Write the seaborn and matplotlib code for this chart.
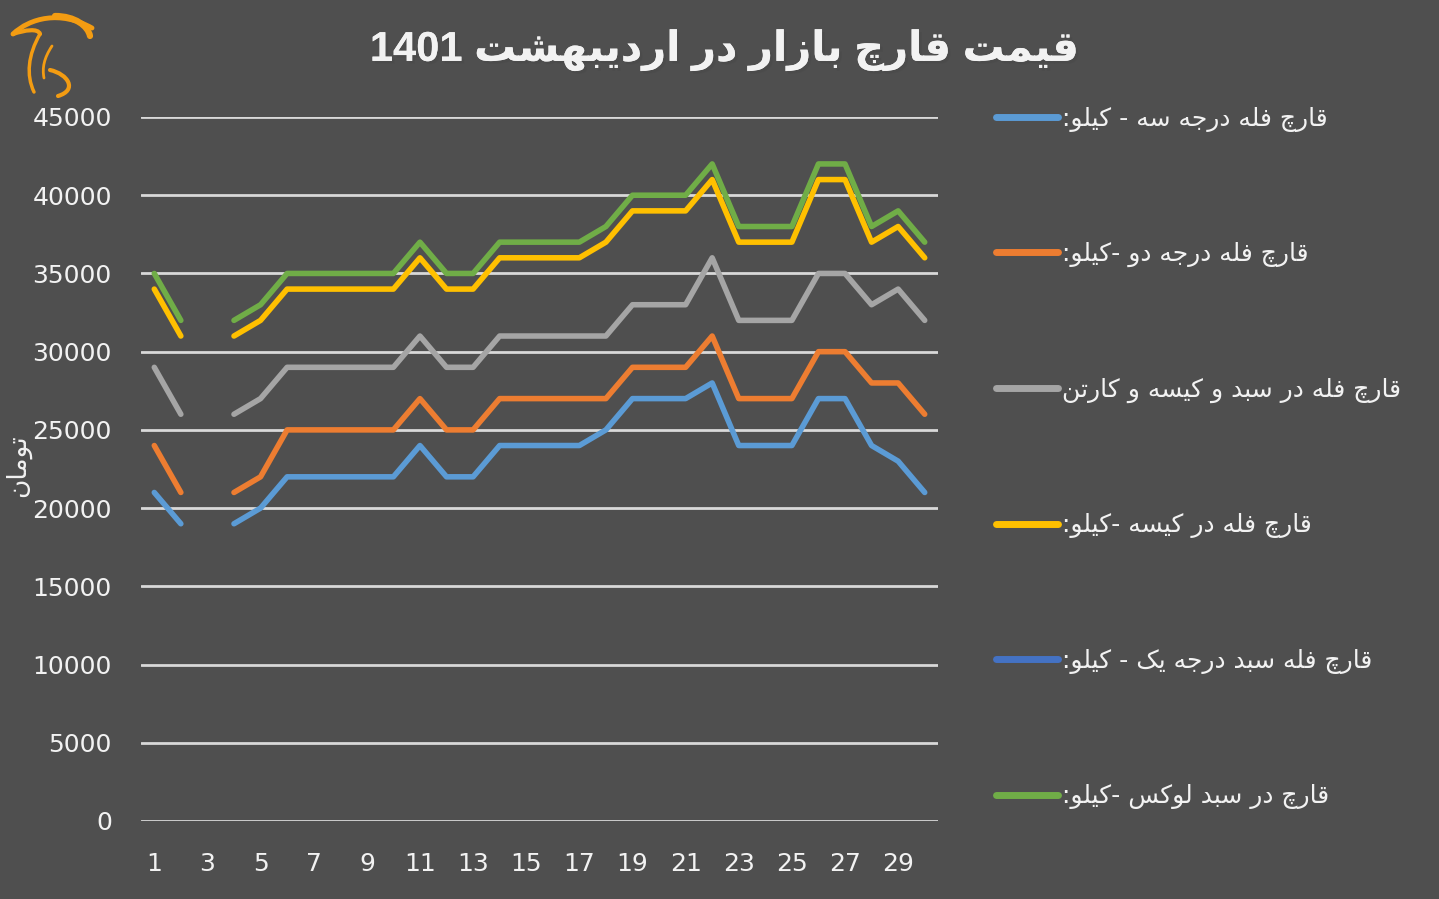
import numpy as np
import pandas as pd
import matplotlib
matplotlib.use("Agg")
import matplotlib.pyplot as plt
import seaborn as sns
from matplotlib.lines import Line2D
from matplotlib.path import Path
from matplotlib.patches import PathPatch
import matplotlib.patheffects as pe

# ---------------- data ----------------
days = list(range(1, 31))
grade3 = [21000, 19000, None, 19000, 20000, 22000, 22000, 22000, 22000, 22000,
          24000, 22000, 22000, 24000, 24000, 24000, 24000, 25000, 27000, 27000,
          27000, 28000, 24000, 24000, 24000, 27000, 27000, 24000, 23000, 21000]
grade2 = [24000, 21000, None, 21000, 22000, 25000, 25000, 25000, 25000, 25000,
          27000, 25000, 25000, 27000, 27000, 27000, 27000, 27000, 29000, 29000,
          29000, 31000, 27000, 27000, 27000, 30000, 30000, 28000, 28000, 26000]
carton = [29000, 26000, None, 26000, 27000, 29000, 29000, 29000, 29000, 29000,
          31000, 29000, 29000, 31000, 31000, 31000, 31000, 31000, 33000, 33000,
          33000, 36000, 32000, 32000, 32000, 35000, 35000, 33000, 34000, 32000]
bag = [34000, 31000, None, 31000, 32000, 34000, 34000, 34000, 34000, 34000,
       36000, 34000, 34000, 36000, 36000, 36000, 36000, 37000, 39000, 39000,
       39000, 41000, 37000, 37000, 37000, 41000, 41000, 37000, 38000, 36000]
grade1 = [None] * 30
lux = [35000, 32000, None, 32000, 33000, 35000, 35000, 35000, 35000, 35000,
       37000, 35000, 35000, 37000, 37000, 37000, 37000, 38000, 40000, 40000,
       40000, 42000, 38000, 38000, 38000, 42000, 42000, 38000, 39000, 37000]

series_names = [
    "قارچ فله درجه سه - کیلو:",
    "قارچ فله درجه دو -کیلو:",
    "قارچ فله در سبد و کیسه و کارتن",
    "قارچ فله در کیسه -کیلو:",
    "قارچ فله سبد درجه یک - کیلو:",
    "قارچ در سبد لوکس -کیلو:",
]
series_values = [grade3, grade2, carton, bag, grade1, lux]
colors = ["#5B9BD5", "#ED7D31", "#A5A5A5", "#FFC000", "#4472C4", "#70AD47"]
title_text = "قیمت قارچ بازار در اردیبهشت 1401"
ylabel_text = "تومان"
yticks = list(range(0, 45001, 5000))
xticks = list(range(1, 30, 2))

# ---------------- Arabic/Persian shaping ----------------
FORMS = {
    "\u0627": (0xFE8D, 0xFE8E, None, None),
    "\u0628": (0xFE8F, 0xFE90, 0xFE91, 0xFE92),
    "\u062A": (0xFE95, 0xFE96, 0xFE97, 0xFE98),
    "\u062B": (0xFE99, 0xFE9A, 0xFE9B, 0xFE9C),
    "\u062C": (0xFE9D, 0xFE9E, 0xFE9F, 0xFEA0),
    "\u062D": (0xFEA1, 0xFEA2, 0xFEA3, 0xFEA4),
    "\u062E": (0xFEA5, 0xFEA6, 0xFEA7, 0xFEA8),
    "\u062F": (0xFEA9, 0xFEAA, None, None),
    "\u0630": (0xFEAB, 0xFEAC, None, None),
    "\u0631": (0xFEAD, 0xFEAE, None, None),
    "\u0632": (0xFEAF, 0xFEB0, None, None),
    "\u0633": (0xFEB1, 0xFEB2, 0xFEB3, 0xFEB4),
    "\u0634": (0xFEB5, 0xFEB6, 0xFEB7, 0xFEB8),
    "\u0635": (0xFEB9, 0xFEBA, 0xFEBB, 0xFEBC),
    "\u0636": (0xFEBD, 0xFEBE, 0xFEBF, 0xFEC0),
    "\u0637": (0xFEC1, 0xFEC2, 0xFEC3, 0xFEC4),
    "\u0638": (0xFEC5, 0xFEC6, 0xFEC7, 0xFEC8),
    "\u0639": (0xFEC9, 0xFECA, 0xFECB, 0xFECC),
    "\u063A": (0xFECD, 0xFECE, 0xFECF, 0xFED0),
    "\u0641": (0xFED1, 0xFED2, 0xFED3, 0xFED4),
    "\u0642": (0xFED5, 0xFED6, 0xFED7, 0xFED8),
    "\u0643": (0xFED9, 0xFEDA, 0xFEDB, 0xFEDC),
    "\u0644": (0xFEDD, 0xFEDE, 0xFEDF, 0xFEE0),
    "\u0645": (0xFEE1, 0xFEE2, 0xFEE3, 0xFEE4),
    "\u0646": (0xFEE5, 0xFEE6, 0xFEE7, 0xFEE8),
    "\u0647": (0xFEE9, 0xFEEA, 0xFEEB, 0xFEEC),
    "\u0648": (0xFEED, 0xFEEE, None, None),
    "\u064A": (0xFEF1, 0xFEF2, 0xFEF3, 0xFEF4),
    "\u067E": (0xFB56, 0xFB57, 0xFB58, 0xFB59),
    "\u0686": (0xFB7A, 0xFB7B, 0xFB7C, 0xFB7D),
    "\u0698": (0xFB8A, 0xFB8B, None, None),
    "\u06A9": (0xFB8E, 0xFB8F, 0xFB90, 0xFB91),
    "\u06AF": (0xFB92, 0xFB93, 0xFB94, 0xFB95),
    "\u06CC": (0xFBFC, 0xFBFD, 0xFBFE, 0xFBFF),
}


def shape(text):
    out = []
    n = len(text)
    for i, ch in enumerate(text):
        if ch not in FORMS:
            out.append(ch)
            continue
        iso, fin, ini, med = FORMS[ch]
        prev = text[i - 1] if i > 0 else ""
        nxt = text[i + 1] if i + 1 < n else ""
        pj = prev in FORMS and FORMS[prev][2] is not None
        nj = nxt in FORMS and ini is not None
        if pj and nj:
            out.append(chr(med))
        elif pj:
            out.append(chr(fin))
        elif nj:
            out.append(chr(ini))
        else:
            out.append(chr(iso))
    s = "".join(out)[::-1]
    # restore digit runs to LTR
    res, run = [], []
    for ch in s:
        if ch.isdigit():
            run.append(ch)
        else:
            if run:
                res.append("".join(run[::-1]))
                run = []
            res.append(ch)
    if run:
        res.append("".join(run[::-1]))
    return "".join(res)


# ---------------- long data frame ----------------
rows = []
for name, vals in zip(series_names, series_values):
    seg = 0
    for d, v in zip(days, vals):
        if v is None:
            seg += 1
            continue
        rows.append({"day": d, "price": v, "series": name, "segment": f"{name}_{seg}"})
df = pd.DataFrame(rows)

# ---------------- style ----------------
BG = "#4F4F4F"
TXT = "#F2F2F2"
sns.set_theme(style="dark")
plt.rcParams["font.family"] = ["DejaVu Sans"]
plt.rcParams["axes.facecolor"] = BG
plt.rcParams["figure.facecolor"] = BG

fig = plt.figure(figsize=(14.39, 8.99), dpi=100)
ax = fig.add_axes([141 / 1439, 1 - 821 / 899, (938 - 141) / 1439, (821 - 117) / 899])
ax.set_facecolor(BG)

for y in yticks:
    ax.axhline(y, color="#D9D9D9", lw=2.0, zorder=0)

palette = dict(zip(series_names, colors))
sns.lineplot(data=df, x="day", y="price", hue="series", units="segment",
             estimator=None, palette=palette, hue_order=series_names,
             lw=4.0, ax=ax, legend=False, solid_capstyle="round", zorder=3)

ax.set_xlim(0.5, 30.5)
ax.set_ylim(0, 45000)
ax.set_xticks(xticks)
ax.set_yticks(yticks)
ax.set_xticklabels([str(t) for t in xticks])
ax.set_yticklabels([str(t) for t in yticks])
ax.tick_params(axis="both", colors=TXT, labelsize=18, length=0)
ax.tick_params(axis="y", pad=21)
ax.tick_params(axis="x", pad=22)
for lab in ax.get_xticklabels() + ax.get_yticklabels():
    lab.set_color(TXT)
ax.grid(False)
for s in ax.spines.values():
    s.set_visible(False)
ax.set_xlabel("")
ax.set_ylabel("")

# y axis title
fig.text(18 / 1439, 1 - 466 / 899, shape(ylabel_text), rotation=90,
         ha="center", va="center", fontsize=19, color=TXT)

# title
fig.text(724 / 1439, 1 - 50 / 899, shape(title_text), ha="center", va="center",
         fontsize=30, fontweight="bold", color=TXT,
         family=["Liberation Sans", "DejaVu Sans"],
         path_effects=[pe.withSimplePatchShadow(offset=(2, -2), alpha=0.5), pe.Normal()])

# legend
handles = [Line2D([0], [0], color=c, lw=5, solid_capstyle="round") for c in colors]
leg = fig.legend(handles, [shape(n) for n in series_names],
                 loc="upper left", bbox_to_anchor=(983 / 1439, 1 - 94 / 899),
                 frameon=False, fontsize=18, labelspacing=4.42,
                 handlelength=2.48, handletextpad=0.2, borderpad=0)
for t in leg.get_texts():
    t.set_color(TXT)

# logo (decorative)
def px(x, y):
    return (x / 1439, 1 - y / 899)

logo_col = "#F39C12"
paths = [
    ([(13, 34), (30, 18), (60, 10), (92, 28)], 3.5),
    ([(55, 16), (75, 16), (88, 26), (90, 36)], 4.5),
    ([(13, 34), (25, 30), (38, 28), (40, 34)], 3.0),
    ([(40, 34), (28, 55), (26, 75), (34, 92)], 2.5),
    ([(52, 46), (44, 58), (42, 68), (44, 78)], 2.0),
    ([(50, 70), (68, 74), (78, 90), (58, 96)], 3.0),
]
for p, w in paths:
    verts = [px(*v) for v in p]
    path = Path(verts, [Path.MOVETO, Path.CURVE4, Path.CURVE4, Path.CURVE4])
    fig.add_artist(PathPatch(path, transform=fig.transFigure, fill=False,
                             edgecolor=logo_col, lw=w, capstyle="round"))

fig.savefig("out.png", dpi=100, facecolor=BG)
